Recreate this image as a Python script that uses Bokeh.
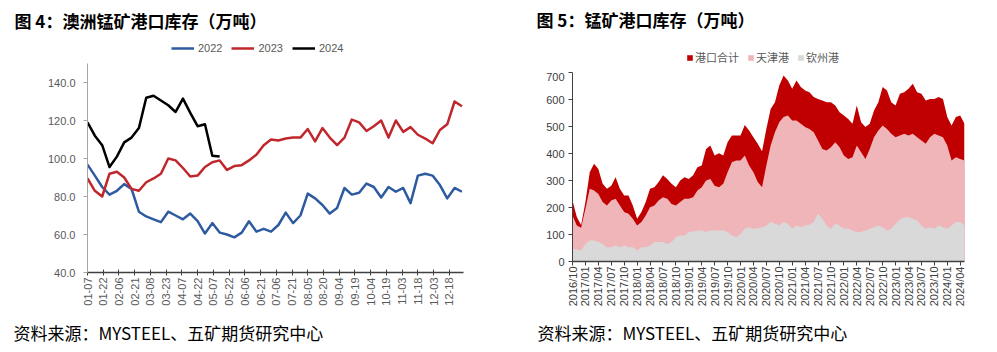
import math
import pandas as pd
from bokeh.plotting import figure
from bokeh.models import Range1d, FixedTicker, Legend, LegendItem, Label, ColumnDataSource
from bokeh.layouts import row, column
from bokeh.embed import file_html
from bokeh.resources import INLINE

# ---------------- Left chart data (weekly, 万吨) ----------------
x_tick_labels = ["01-07", "01-22", "02-06", "02-21", "03-08", "03-23", "04-07", "04-22",
                 "05-07", "05-22", "06-06", "06-21", "07-06", "07-21", "08-05", "08-20",
                 "09-04", "09-19", "10-04", "10-19", "11-03", "11-18", "12-03", "12-18"]
y_ticks_left = [40, 60, 80, 100, 120, 140]

y2022 = [96.8, 91, 85, 81, 83, 86.5, 84, 72, 69.5, 68, 66.5, 72, 70, 68, 71, 67, 60.5, 66,
         61, 60, 58.5, 61, 67, 61.5, 63, 61.5, 65, 71.5, 66, 70, 81.5, 79, 75.5, 71, 74, 84.5,
         81, 82, 86.8, 85, 79.5, 85, 82.5, 84.5, 76.5, 91, 92, 91, 86, 79, 84.5, 82.5]
y2023 = [89.5, 83, 80, 92, 93, 90, 84, 83, 87.5, 89.5, 92, 100, 99, 95, 90.5, 91, 95.5, 98,
         99, 94, 96, 96.5, 99, 102, 107, 110, 109.5, 110.5, 111, 111, 115.5, 109, 116, 111,
         107, 111, 120.5, 119, 114.5, 117, 120, 111, 120, 114, 116.5, 112.5, 110.5, 108, 115,
         118, 130, 127.5]
y2024 = [119, 112, 107, 95.5, 101, 108.5, 111, 116, 132, 133, 130.5, 128, 124.5, 131.5, 124,
         117, 118, 101.5, 101]

# ---------------- Right chart data (万吨) ----------------
months = [f"{p.year}/{p.month:02d}" for p in pd.period_range("2016-10", "2024-05", freq="M")]
port_total = [226, 165, 135, 220, 331, 362, 343, 288, 269, 281, 312, 269, 244, 244, 207, 158,
              183, 220, 269, 275, 294, 319, 306, 288, 275, 300, 312, 306, 319, 349, 356, 417,
              430, 393, 401, 393, 442, 467, 467, 467, 506, 485, 460, 436, 408, 491, 565, 590,
              652, 689, 670, 640, 670, 646, 633, 627, 609, 602, 596, 590, 590, 578, 553, 541,
              528, 510, 578, 516, 498, 510, 559, 590, 646, 633, 590, 578, 621, 627, 640, 658,
              627, 621, 596, 602, 602, 609, 602, 535, 504, 535, 541, 510]
tianjin = [170, 133, 125, 195, 269, 263, 250, 220, 207, 226, 232, 207, 183, 177, 158, 133,
           146, 170, 201, 207, 226, 238, 232, 213, 207, 220, 232, 232, 238, 263, 275, 300,
           306, 281, 275, 288, 331, 368, 374, 374, 393, 356, 331, 294, 275, 356, 430, 479,
           516, 535, 541, 522, 522, 510, 498, 491, 479, 448, 417, 411, 423, 442, 423, 393,
           380, 386, 430, 405, 380, 417, 460, 485, 504, 491, 473, 460, 467, 473, 467, 473,
           460, 448, 436, 460, 473, 467, 460, 430, 374, 386, 380, 374]
qinzhou = [47, 44, 41, 65, 78, 78, 72, 65, 53, 53, 59, 53, 59, 53, 53, 41, 53, 53, 59, 72, 72,
           72, 65, 72, 90, 96, 96, 109, 111, 115, 115, 109, 115, 115, 115, 115, 109, 96, 90,
           102, 121, 127, 121, 123, 127, 133, 146, 140, 133, 146, 140, 121, 133, 127, 133, 136,
           146, 177, 158, 133, 121, 140, 133, 121, 121, 115, 109, 109, 115, 121, 127, 133, 127,
           115, 121, 140, 156, 164, 164, 158, 152, 133, 121, 127, 121, 133, 127, 121, 133, 146,
           146, 133]
y_ticks_right = [0, 100, 200, 300, 400, 500, 600, 700]

CJK = "Noto Sans CJK SC"
TICKF = "Liberation Sans"
COL22, COL23, COL24 = "#2E5B9F", "#C0272D", "#000000"
COLT, COLTJ, COLQZ = "#C00000", "#F0B5B9", "#D9D9D9"
FOOT_H = 40


def blank(w, h):
    f = figure(width=w, height=h, x_range=Range1d(0, w), y_range=Range1d(0, h),
               x_axis_type=None, y_axis_type=None, min_border=0, frame_align=False,
               output_backend="svg", toolbar_location=None)
    f.outline_line_color = None
    f.grid.visible = False
    return f


def legend_box(items, loc, gw, gh, standoff, spacing, font):
    return Legend(items=items, orientation="horizontal", location=loc,
                  glyph_width=gw, glyph_height=gh, label_height=12, label_standoff=standoff,
                  spacing=spacing, padding=0, margin=0, border_line_color=None,
                  background_fill_alpha=0, label_text_font=font, label_text_font_size="11px",
                  label_text_color="#595959")


# legend swatches only (kept outside the visible header area)
off_x, off_y = [-50, -40], [-50, -50]

# ================= Left chart =================
W1 = 498
h1 = blank(W1, 63)
h1.add_layout(Label(x=14, y=43, text="图 4：澳洲锰矿港口库存（万吨）", text_font=CJK,
                    text_font_size="17px", text_font_style="bold", text_color="#000000",
                    text_baseline="middle"))
d22 = h1.line(off_x, off_y, line_color=COL22, line_width=2.5)
d23 = h1.line(off_x, off_y, line_color=COL23, line_width=2.5)
d24 = h1.line(off_x, off_y, line_color=COL24, line_width=2.5)
h1.add_layout(legend_box([LegendItem(label="2022", renderers=[d22]),
                          LegendItem(label="2023", renderers=[d23]),
                          LegendItem(label="2024", renderers=[d24])],
                         (171, 9), 23, 12, 4, 9, TICKF), "center")

FW1, FH1 = 376, 209
p1 = figure(width=W1, height=352 - 63 - FOOT_H, frame_width=FW1, frame_height=FH1,
            frame_align=False,
            min_border_left=87, min_border_right=35, min_border_top=0,
            min_border_bottom=352 - 63 - FOOT_H - FH1,
            x_range=Range1d(7, 365.5), y_range=Range1d(40, 150),
            output_backend="svg", toolbar_location=None)
p1.outline_line_color = None
p1.grid.visible = False

days = [7 + 7 * k for k in range(52)]
p1.line(days[:len(y2022)], y2022, line_color=COL22, line_width=2.5, line_join="round")
p1.line(days[:len(y2023)], y2023, line_color=COL23, line_width=2.5, line_join="round")
p1.line(days[:len(y2024)], y2024, line_color=COL24, line_width=2.5, line_join="round")

tick_pos = [int(pd.Timestamp("2023-" + t).dayofyear) for t in x_tick_labels]
p1.xaxis.ticker = FixedTicker(ticks=tick_pos)
p1.xaxis.major_label_overrides = {pos: lbl for pos, lbl in zip(tick_pos, x_tick_labels)}
p1.xaxis.major_label_orientation = math.pi / 2
p1.xaxis.axis_line_color = "#404040"
p1.xaxis.axis_line_width = 1.5
p1.xaxis.major_tick_line_color = "#404040"
p1.xaxis.major_tick_in = 3
p1.xaxis.major_tick_out = 3
p1.xaxis.minor_tick_line_color = None
p1.xaxis.major_label_text_font = TICKF
p1.xaxis.major_label_text_font_size = "11px"
p1.xaxis.major_label_text_color = "#595959"
p1.xaxis.major_label_standoff = 2

p1.yaxis.ticker = FixedTicker(ticks=y_ticks_left)
p1.yaxis.major_label_overrides = {v: f"{v:.1f}" for v in y_ticks_left}
p1.yaxis.axis_line_color = "#A6A6A6"
p1.yaxis.major_tick_line_color = "#A6A6A6"
p1.yaxis.major_tick_in = 0
p1.yaxis.major_tick_out = 4
p1.yaxis.minor_tick_line_color = None
p1.yaxis.major_label_text_font = TICKF
p1.yaxis.major_label_text_font_size = "11px"
p1.yaxis.major_label_text_color = "#595959"
p1.yaxis.major_label_standoff = 8

f1 = blank(W1, FOOT_H)
f1.add_layout(Label(x=13, y=20, text="资料来源：MYSTEEL、五矿期货研究中心", text_font=CJK,
                    text_font_size="17px", text_color="#000000", text_baseline="middle"))

# ================= Right chart =================
W2 = 499
h2 = blank(W2, 72)
h2.add_layout(Label(x=38, y=53, text="图 5：锰矿港口库存（万吨）", text_font=CJK,
                    text_font_size="17px", text_font_style="bold", text_color="#000000",
                    text_baseline="middle"))
da = h2.varea(x=off_x, y1=off_y, y2=off_y, fill_color=COLT)
db = h2.varea(x=off_x, y1=off_y, y2=off_y, fill_color=COLTJ)
dc = h2.varea(x=off_x, y1=off_y, y2=off_y, fill_color=COLQZ)
h2.add_layout(legend_box([LegendItem(label="港口合计", renderers=[da]),
                          LegendItem(label="天津港", renderers=[db]),
                          LegendItem(label="钦州港", renderers=[dc])],
                         (188, 7), 7, 7, 2, 8, CJK), "center")

FW2, FH2 = 392, 189
p2 = figure(width=W2, height=352 - 72 - FOOT_H, frame_width=FW2, frame_height=FH2,
            frame_align=False,
            min_border_left=74, min_border_right=33, min_border_top=0,
            min_border_bottom=352 - 72 - FOOT_H - FH2,
            x_range=Range1d(0, len(months) - 1), y_range=Range1d(0, 700),
            output_backend="svg", toolbar_location=None)
p2.outline_line_color = None
p2.grid.visible = False

src = ColumnDataSource(dict(m=list(range(len(months))), total=port_total,
                            tj=tianjin, qz=qinzhou))
p2.varea(x="m", y1=0, y2="total", source=src, fill_color=COLT)
p2.varea(x="m", y1=0, y2="tj", source=src, fill_color=COLTJ)
p2.varea(x="m", y1=0, y2="qz", source=src, fill_color=COLQZ)

mtick = list(range(0, len(months), 3))
p2.xaxis.ticker = FixedTicker(ticks=mtick)
p2.xaxis.major_label_overrides = {i: months[i] for i in mtick}
p2.xaxis.major_label_orientation = math.pi / 2
p2.xaxis.axis_line_color = "#404040"
p2.xaxis.axis_line_width = 1.5
p2.xaxis.major_tick_line_color = "#404040"
p2.xaxis.major_tick_in = 0
p2.xaxis.major_tick_out = 4
p2.xaxis.minor_tick_line_color = None
p2.xaxis.major_label_text_font = TICKF
p2.xaxis.major_label_text_font_size = "11px"
p2.xaxis.major_label_text_color = "#404040"
p2.xaxis.major_label_standoff = 1

p2.yaxis.ticker = FixedTicker(ticks=y_ticks_right)
p2.yaxis.axis_line_color = "#404040"
p2.yaxis.major_tick_line_color = "#404040"
p2.yaxis.major_tick_in = 0
p2.yaxis.major_tick_out = 4
p2.yaxis.minor_tick_line_color = None
p2.yaxis.major_label_text_font = TICKF
p2.yaxis.major_label_text_font_size = "11px"
p2.yaxis.major_label_text_color = "#404040"
p2.yaxis.major_label_standoff = 4

f2 = blank(W2, FOOT_H)
f2.add_layout(Label(x=39, y=20, text="资料来源：MYSTEEL、五矿期货研究中心", text_font=CJK,
                    text_font_size="17px", text_color="#000000", text_baseline="middle"))

layout = row(column(h1, p1, f1), column(h2, p2, f2))
open("out.html", "w").write(file_html(layout, INLINE))
